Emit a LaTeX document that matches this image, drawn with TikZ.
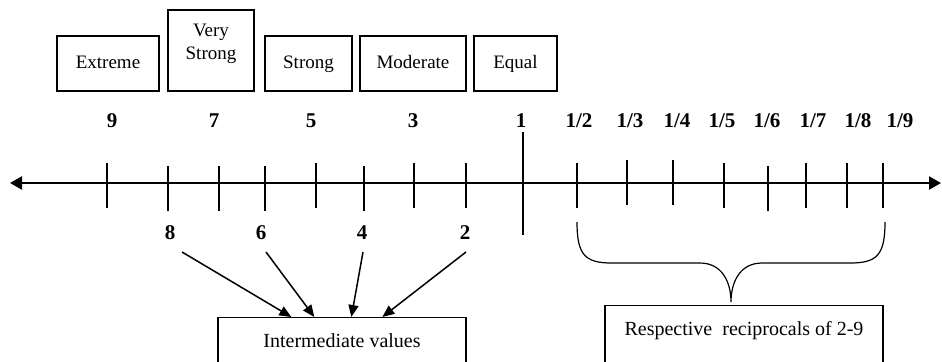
\documentclass[tikz,border=0pt]{standalone}
\usepackage{fontspec}
\setmainfont{Liberation Serif}
\usetikzlibrary{calc,arrows.meta}

\tikzset{
	catbox/.style={draw,line width=.65pt,inner sep=0pt,align=center,text height=7pt,text depth=2pt,font=\fontsize{9.5}{11.5}\selectfont},
	notebox/.style={draw,line width=.65pt,anchor=north,inner ysep=8pt,text height=7pt,text depth=25pt,font=\fontsize{10}{12}\selectfont},
	num/.style={font=\fontsize{10.5}{12}\selectfont\bfseries,inner sep=1pt},
	tick/.style={line width=.65pt},
	arr/.style={line width=.75pt,-{Triangle[length=6pt,width=5pt]}},
	axtip/.tip={Triangle[length=6pt,width=6.5pt]}
}

\begin{document}
\begin{tikzpicture}[x=0.5pt,y=-0.5pt]
	\clip (0,0) rectangle (942,361);
	\node[catbox,minimum width=51pt,minimum height=27.5pt] (extreme) at (108,63.5) {Extreme};
	\node[catbox,minimum width=43pt,minimum height=40.5pt,text height=,text depth=9pt] (vstrong) at (211,50.5) {Very\\Strong};
	\node[catbox,minimum width=43.5pt,minimum height=27.5pt] (strong) at (308.5,63.5) {Strong};
	\node[catbox,minimum width=53pt,minimum height=27.5pt] (moderate) at (413,63.5) {Moderate};
	\node[catbox,minimum width=41.5pt,minimum height=27.5pt] (equal) at (515.5,63.5) {Equal};

	% number line
	\draw[line width=1.1pt,axtip-axtip] (10,183) -- (941,183);
	\foreach \x/\y in {107/163,168/166,219/166,265/166,316/163,364/166,414/163,466/163,
		577/163,627/160,673/160,724/163,768/166,806/163,847/163,883/163}
		\draw[tick] (\x,\y) -- (\x,\y+45);
	\draw[tick] (523,132) -- (523,235);

	\foreach \x/\v in {112/9,214/7,311/5,413/3,521/1}
		\node[num] (t\v) at (\x,121) {\v};
	\foreach \x/\v in {579/2,630/3,677/4,722/5,767/6,813/7,858/8,900/9}
		\node[num] (r\v) at (\x,121) {1/\v};
	\foreach \x/\v in {170/8,261/6,362/4,465/2}
		\node[num] (b\v) at (\x,233) {\v};

	\node[notebox,minimum width=124pt] (inter) at (342,317) {Intermediate values};
	\node[notebox,minimum width=139pt] (recip) at (744,305) {Respective\ \ reciprocals of 2-9};

	\foreach \v/\dx/\hx in {8/12/74,6/5/97,4/1/134,2/1/165}
		\draw[arr] ($(b\v)+(\dx,19)$) -- ($(inter.north west)+(\hx,0)$);

	% brace
	\draw[line width=.6pt] (577,222) .. controls (577,255) and (585,263) .. (612,263) -- (700,263)
		.. controls (722,263) and (731,282) .. (731,302) .. controls (731,282) and (740,263) .. (762,263)
		-- (850,263) .. controls (877,263) and (885,255) .. (885,222);
\end{tikzpicture}
\end{document}
